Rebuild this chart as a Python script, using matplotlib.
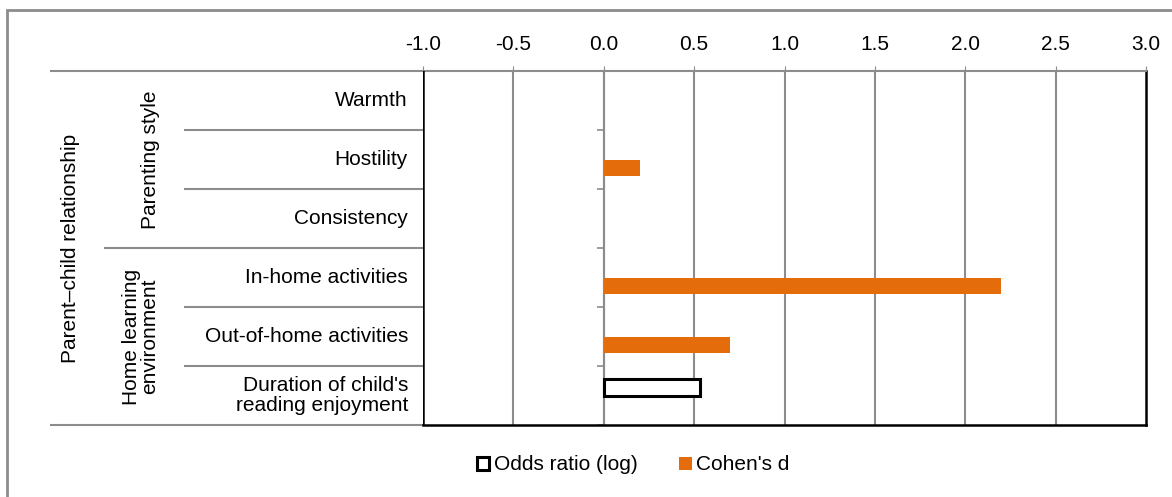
import numpy as np
import matplotlib
matplotlib.use("Agg")
import matplotlib.pyplot as plt
import matplotlib.patches as mpatches
from matplotlib.transforms import blended_transform_factory

plt.rcParams['font.family'] = ['Liberation Sans', 'DejaVu Sans']
plt.rcParams['font.size'] = 15

# ---------------- data ----------------
rows = ["Warmth", "Hostility", "Consistency", "In-home activities",
        "Out-of-home activities", "Duration of child's\nreading enjoyment"]
cohens_d = [np.nan, 0.2, np.nan, 2.2, 0.7, np.nan]
odds_log = [np.nan, np.nan, np.nan, np.nan, np.nan, 0.53]
xticks = [-1.0, -0.5, 0.0, 0.5, 1.0, 1.5, 2.0, 2.5, 3.0]
outer_group = "Parent\u2013child relationship"
inner_groups = ["Parenting style", "Home learning\nenvironment"]

ORANGE = "#E46C0A"
GRID = "#8C8C8C"
W, H = 1172, 497

fig = plt.figure(figsize=(W / 100, H / 100), dpi=100)
ax = fig.add_axes([423 / W, 1 - 425 / H, (1146 - 423) / W, (425 - 71) / H])

y = np.arange(len(rows))
bh = 0.28
ax.barh(y - bh / 2, odds_log, height=bh, facecolor="white", edgecolor="black",
        linewidth=2.2, label="Odds ratio (log)", zorder=3)
ax.barh(y + bh / 2, cohens_d, height=bh, color=ORANGE, label="Cohen's d", zorder=3)

ax.set_xlim(-1.0, 3.0)
ax.set_ylim(len(rows) - 0.5, -0.5)
ax.set_xticks(xticks)
ax.set_xticklabels([f"{t:.1f}" for t in xticks])
ax.xaxis.tick_top()
ax.tick_params(axis="x", length=3.6, color=GRID, pad=9, labelsize=15)
for t in xticks[1:-1]:
    ax.axvline(t, color=GRID, lw=1.5, zorder=1)

# y axis at zero
ax.spines["left"].set_position(("data", 0))
ax.spines["left"].set_color(GRID)
ax.spines["left"].set_linewidth(1.5)
ax.set_yticks(np.arange(-0.5, len(rows), 1.0))
ax.set_yticklabels([])
ax.tick_params(axis="y", length=5, color=GRID, width=1.2)
ax.spines["top"].set_color(GRID)
ax.spines["top"].set_linewidth(1.5)
ax.spines["bottom"].set_color("black")
ax.spines["bottom"].set_linewidth(1.8)
ax.spines["right"].set_color("black")
ax.spines["right"].set_linewidth(1.8)
ax.axvline(-1.0, color="black", lw=1.8, zorder=4)

# category table on the left
tr = blended_transform_factory(fig.transFigure, ax.transData)
for i, lab in enumerate(rows):
    ax.text(408 / W, i, lab, transform=tr, ha="right", va="center",
            linespacing=1.1, clip_on=False)

def hline(x0, yv):
    ax.plot([x0 / W, 423 / W], [yv, yv], transform=tr, color=GRID, lw=1.5,
            clip_on=False)

hline(51, -0.5)
hline(51, len(rows) - 0.5)
hline(105, 2.5)
for b in [0.5, 1.5, 3.5, 4.5]:
    hline(185, b)

ax.text(71 / W, (len(rows) - 1) / 2, outer_group, transform=tr, rotation=90,
        ha="center", va="center", clip_on=False)
ax.text(150 / W, 1, inner_groups[0], transform=tr, rotation=90,
        ha="center", va="center", clip_on=False)
ax.text(141 / W, 4, inner_groups[1], transform=tr, rotation=90,
        ha="center", va="center", linespacing=0.95, clip_on=False)

# legend
fig.legend(loc="center", bbox_to_anchor=(633 / W, 1 - 465 / H), ncol=2,
           frameon=False, handlelength=0.6, handleheight=0.6, handletextpad=0.2,
           columnspacing=2.0, fontsize=15)

# outer chart frame
fig.patches.append(mpatches.Rectangle((7 / W, -0.1), 1.2, 1 - 10 / H + 0.1,
                                      transform=fig.transFigure, fill=False,
                                      edgecolor=GRID, lw=2))

fig.savefig("out.png", dpi=100)
